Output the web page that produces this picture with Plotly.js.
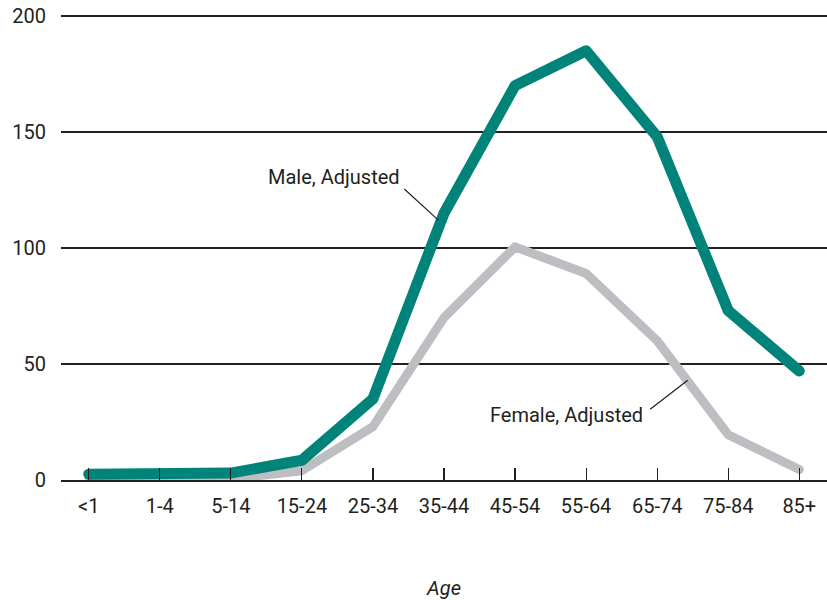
<!DOCTYPE html>
<html>
<head>
<meta charset="utf-8">
<script src="https://cdn.plot.ly/plotly-3.0.1.min.js"></script>
<style>
html,body{margin:0;padding:0;background:#fff;}
#chart{width:827px;height:600px;}
.scatterlayer path.js-line{stroke-linecap:round;stroke-linejoin:round;}
</style>
</head>
<body>
<div id="chart"></div>
<script>
var ageGroups = ["<1","1-4","5-14","15-24","25-34","35-44","45-54","55-64","65-74","75-84","85+"];
var maleAdjusted = [2.5, 2.5, 3, 8.5, 35, 115, 170, 185, 148, 73, 47];
var femaleAdjusted = [1.5, 1, 0.5, 4, 23, 70, 100.5, 89, 60, 19.5, 4.5];
var yTicks = [0, 50, 100, 150, 200];

var textColor = "#231f20";
var fontFam = "Roboto, 'Liberation Sans', Arial, sans-serif";

var traces = [
  {x: ageGroups, y: femaleAdjusted, type: "scatter", mode: "lines",
   line: {color: "#bdbec2", width: 9}, name: "Female, Adjusted", hoverinfo: "skip"},
  {x: ageGroups, y: maleAdjusted, type: "scatter", mode: "lines",
   line: {color: "#00847a", width: 11}, name: "Male, Adjusted", hoverinfo: "skip"}
];

var layout = {
  width: 827, height: 600,
  margin: {l: 61, r: 0, t: 14, b: 120},
  paper_bgcolor: "#fff", plot_bgcolor: "#fff",
  showlegend: false,
  font: {family: fontFam, size: 20, color: textColor},
  xaxis: {
    type: "category",
    range: [-0.39, 10.39],
    showgrid: false, zeroline: false,
    showline: true, linecolor: "#231f20", linewidth: 1.5,
    ticks: "inside", ticklen: 12, tickwidth: 1.2, tickcolor: "#231f20",
    tickfont: {size: 20, color: textColor},
    ticklabelstandoff: 7,
    title: {text: "<i>Age</i>", font: {size: 20, color: textColor}, standoff: 66},
    automargin: false, fixedrange: true
  },
  yaxis: {
    range: [0, 200.862],
    tickvals: yTicks,
    showgrid: true, gridcolor: "#231f20", gridwidth: 1.5,
    zeroline: false, showline: false, ticks: "",
    tickfont: {size: 20, color: textColor},
    ticklabelstandoff: 14,
    automargin: false, fixedrange: true
  },
  annotations: [
    {x: 4.92, y: 112, ax: 4.42, ay: 126, xref: "x", yref: "y", axref: "x", ayref: "y",
     showarrow: true, arrowhead: 0, arrowwidth: 1.2, arrowcolor: "#231f20",
     text: "", standoff: 0},
    {x: 4.41, y: 130.5, xref: "x", yref: "y", text: "Male, Adjusted", showarrow: false,
     xanchor: "right", yanchor: "middle", font: {size: 20, color: textColor}},
    {x: 8.43, y: 43, ax: 7.88, ay: 30, xref: "x", yref: "y", axref: "x", ayref: "y",
     showarrow: true, arrowhead: 0, arrowwidth: 1.2, arrowcolor: "#231f20",
     text: "", standoff: 0},
    {x: 7.83, y: 28, xref: "x", yref: "y", text: "Female, Adjusted", showarrow: false,
     xanchor: "right", yanchor: "middle", font: {size: 20, color: textColor}}
  ]
};

Plotly.newPlot("chart", traces, layout, {displayModeBar: false, staticPlot: true});
</script>
</body>
</html>
